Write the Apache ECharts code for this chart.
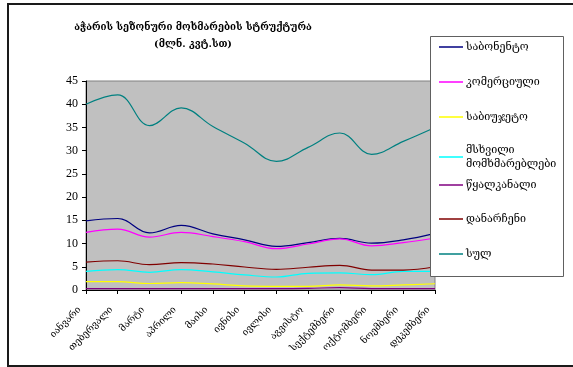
<!DOCTYPE html>
<html>
<head>
<meta charset="utf-8">
<script src="https://cdn.jsdelivr.net/npm/echarts@6/dist/echarts.min.js"></script>
<style>
  html, body { margin: 0; padding: 0; background: #fff; }
  #chart { width: 573px; height: 367px; }
</style>
</head>
<body>
<div id="chart"></div>
<script>
// Monthly consumption by customer group, million kWh
const months = ['იანვარი', 'თებერვალი', 'მარტი', 'აპრილი', 'მაისი', 'ივნისი',
  'ივლისი', 'აგვისტო', 'სექტემბერი', 'ოქტომბერი', 'ნოემბერი', 'დეკემბერი'];

const subscribers = [14.9, 15.4, 12.3, 13.9, 12.1, 10.8, 9.4, 10.2, 11.1, 10.1, 10.8, 12.2];
const commercial  = [12.4, 13.1, 11.4, 12.4, 11.5, 10.4, 8.9, 9.9, 11.0, 9.5, 10.2, 11.2];
const budget      = [1.8, 1.8, 1.4, 1.6, 1.3, 0.9, 0.8, 0.8, 1.1, 0.9, 1.1, 1.35];
const largeUsers  = [4.0, 4.4, 3.8, 4.4, 3.9, 3.25, 2.8, 3.6, 3.7, 3.3, 4.0, 4.0];
const waterUtility = [0.3, 0.3, 0.3, 0.3, 0.3, 0.3, 0.3, 0.35, 0.5, 0.3, 0.3, 0.3];
const others      = [6.0, 6.3, 5.45, 5.9, 5.6, 4.95, 4.45, 4.9, 5.3, 4.3, 4.3, 5.0];
const total       = [40.0, 42.0, 35.4, 39.2, 35.2, 31.6, 27.7, 30.7, 33.8, 29.2, 32.0, 35.0];

const yTicks = [0, 5, 10, 15, 20, 25, 30, 35, 40, 45];

const seriesDefs = [
  { name: 'საბონენტო', data: subscribers, color: '#000080' },
  { name: 'კომერციული', data: commercial, color: '#ff00ff' },
  { name: 'საბიუჯეტო', data: budget, color: '#ffff00' },
  { name: 'მსხვილი\nმომხმარებლები', data: largeUsers, color: '#00ffff' },
  { name: 'წყალკანალი', data: waterUtility, color: '#800080' },
  { name: 'დანარჩენი', data: others, color: '#800000' },
  { name: 'სულ', data: total, color: '#008080' }
];

const geoFont = "'DejaVu Serif', 'DejaVu Sans', serif";
const numFont = "'Liberation Serif', 'DejaVu Serif', serif";

// one legend block per entry so each row sits where it should
const legendTops = [40, 75, 110, 143, 178, 212, 247];
const legends = seriesDefs.map((s, i) => ({
  data: [s.name],
  left: 439,
  top: legendTops[i],
  orient: 'vertical',
  icon: 'rect',
  itemWidth: 24,
  itemHeight: 1.5,
  itemGap: 0,
  padding: 0,
  z: 20,
  selectedMode: false,
  textStyle: { fontFamily: geoFont, fontSize: 10.7, color: '#000', lineHeight: 14, padding: [0, 0, 0, -2] }
}));

const chart = echarts.init(document.getElementById('chart'), null, { renderer: 'canvas' });

chart.setOption({
  animation: false,
  backgroundColor: '#ffffff',
  title: {
    text: 'აჭარის სეზონური მოხმარების სტრუქტურა\n(მლნ. კვტ.სთ)',
    left: 188,
    top: 14,
    textAlign: 'center',
    textStyle: { fontFamily: geoFont, fontSize: 9.8, fontWeight: 'bold', color: '#000', lineHeight: 17 }
  },
  graphic: [
    {
      type: 'rect',
      shape: { x: 8, y: 4, width: 600, height: 362 },
      style: { fill: 'none', stroke: '#1a1a1a', lineWidth: 2 },
      silent: true,
      z: 1
    },
    {
      type: 'rect',
      shape: { x: 430.5, y: 36.5, width: 133, height: 240 },
      style: { fill: '#ffffff', stroke: '#606060', lineWidth: 1 },
      silent: true,
      z: 5
    }
  ],
  legend: legends,
  grid: {
    left: 86,
    top: 81,
    right: 138,
    bottom: 77,
    show: true,
    backgroundColor: '#c0c0c0',
    borderColor: '#808080',
    borderWidth: 1,
    containLabel: false
  },
  xAxis: {
    type: 'category',
    data: months,
    boundaryGap: false,
    axisLine: { show: true, lineStyle: { color: '#000', width: 1 } },
    axisTick: { show: true, alignWithLabel: true, length: 4, lineStyle: { color: '#000' } },
    axisLabel: {
      interval: 0,
      rotate: 45,
      margin: 12,
      padding: [0, 9, 0, 0],
      fontFamily: geoFont,
      fontSize: 9.5,
      color: '#000'
    },
    splitLine: { show: false }
  },
  yAxis: {
    type: 'value',
    min: yTicks[0],
    max: yTicks[yTicks.length - 1],
    interval: 5,
    axisLine: { show: true, lineStyle: { color: '#000', width: 1 } },
    axisTick: { show: true, length: 4, inside: false, lineStyle: { color: '#000' } },
    axisLabel: { fontFamily: numFont, fontSize: 12, color: '#000', margin: 8 },
    splitLine: { show: false }
  },
  series: seriesDefs.map(s => ({
    name: s.name,
    type: 'line',
    data: s.data,
    smooth: 0.4,
    showSymbol: false,
    symbol: 'none',
    lineStyle: { color: s.color, width: 1.2 },
    itemStyle: { color: s.color },
    z: 2
  }))
});
</script>
</body>
</html>
